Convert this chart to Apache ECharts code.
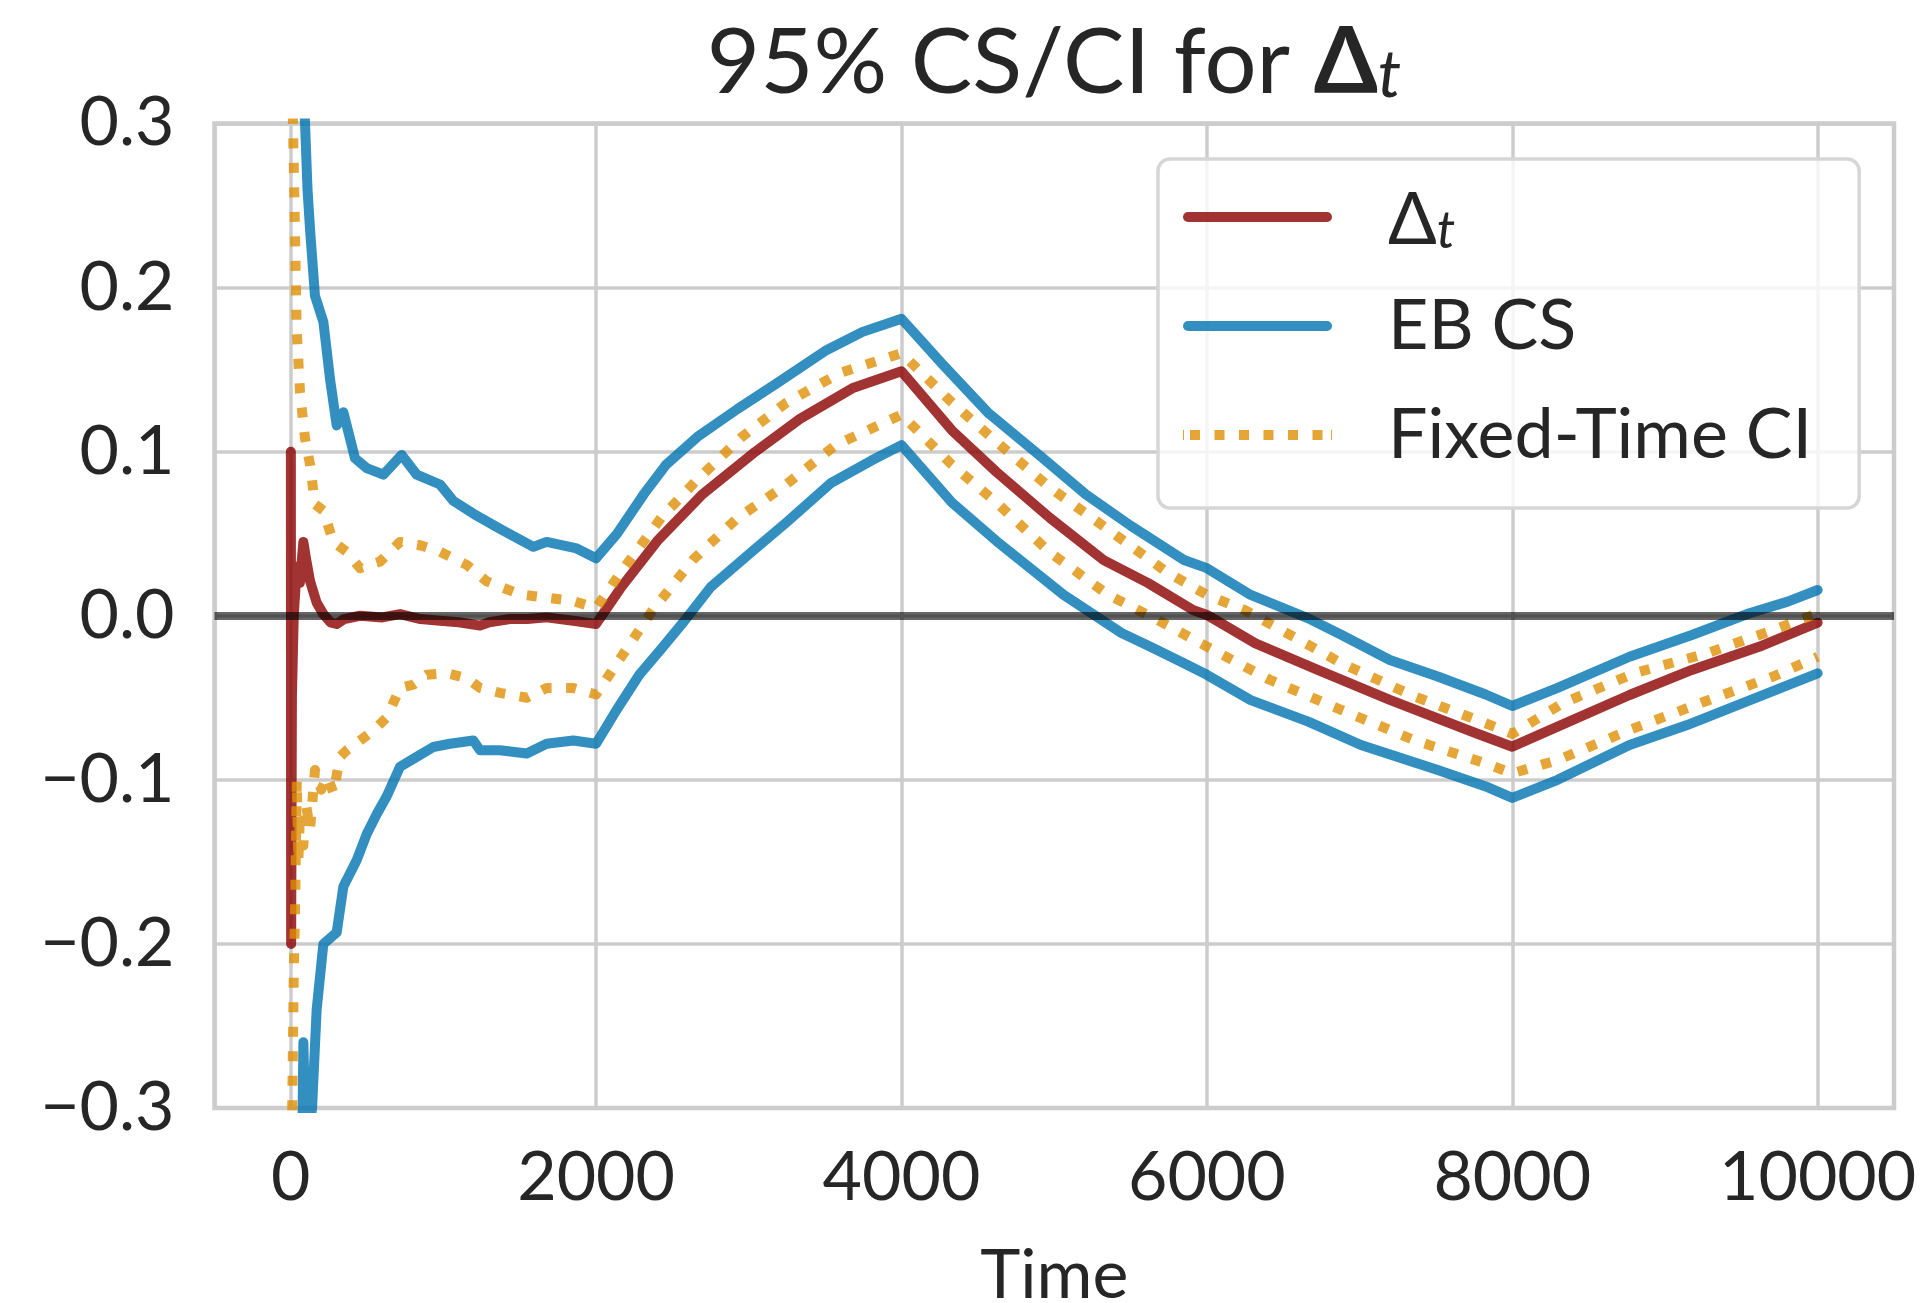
<!DOCTYPE html>
<html>
<head>
<meta charset="utf-8">
<script src="https://cdn.jsdelivr.net/npm/echarts@6/dist/echarts.min.js"></script>
<style>
  html, body { margin: 0; padding: 0; background: #fff; }
  #chart { width: 1921px; height: 1303px; }
</style>
</head>
<body>
<div id="chart"></div>
<script>
// values, [time, value]
var deltaPts = [
  [1, 0.1], [3, -0.2], [8, -0.05], [20, 0.0], [40, 0.03], [60, 0.02], [83, 0.045], [100, 0.035],
  [127, 0.021], [170, 0.008], [214, 0.001], [260, -0.004], [301, -0.005], [350, -0.002], [454, 0.0],
  [600, -0.001], [716, 0.001], [850, -0.002], [978, -0.003], [1100, -0.004], [1240, -0.006],
  [1300, -0.004], [1436, -0.002], [1550, -0.002], [1676, -0.001], [1850, -0.003], [2000, -0.005],
  [2166, 0.0175], [2400, 0.0455], [2692, 0.0736], [3043, 0.100], [3335, 0.120], [3686, 0.139],
  [4000, 0.149], [4330, 0.113], [4622, 0.0876], [4973, 0.0596], [5324, 0.0339], [5616, 0.0199],
  [5909, 0.0035], [6000, 0.0005], [6318, -0.0168], [6726, -0.033], [7198, -0.0513], [7763, -0.0716],
  [8000, -0.0798], [8297, -0.0676], [8768, -0.0483], [9176, -0.033], [9616, -0.0189], [10000, -0.0042]
];
var csUpper = [
  [1, 1.0], [50, 0.4], [94, 0.3], [110, 0.26], [127, 0.235], [159, 0.195], [214, 0.179], [258, 0.144],
  [301, 0.116], [345, 0.124], [421, 0.096], [498, 0.09], [607, 0.086], [727, 0.098], [825, 0.086],
  [978, 0.08], [1065, 0.07], [1218, 0.061], [1371, 0.053], [1589, 0.042], [1676, 0.045], [1873, 0.041],
  [2000, 0.035], [2137, 0.05], [2312, 0.074], [2458, 0.092], [2663, 0.109], [2926, 0.126], [3189, 0.142],
  [3511, 0.162], [3745, 0.173], [4000, 0.181], [4271, 0.153], [4564, 0.124], [4914, 0.097], [5207, 0.074],
  [5499, 0.055], [5850, 0.034], [6000, 0.029], [6287, 0.0127], [6664, -0.0016], [6883, -0.0117],
  [7198, -0.027], [7512, -0.037], [7826, -0.048], [8000, -0.055], [8297, -0.044], [8768, -0.025],
  [9176, -0.0117], [9553, 0.0015], [9804, 0.0086], [10000, 0.0157]
];
var csLower = [
  [1, -1.0], [60, -0.45], [83, -0.26], [100, -0.33], [140, -0.3], [170, -0.24], [214, -0.2], [301, -0.193],
  [345, -0.165], [432, -0.149], [498, -0.133], [563, -0.121], [629, -0.11], [716, -0.092], [825, -0.086],
  [934, -0.08], [1043, -0.078], [1196, -0.076], [1240, -0.082], [1371, -0.082], [1546, -0.084],
  [1676, -0.078], [1851, -0.076], [2000, -0.078], [2137, -0.057], [2283, -0.036], [2429, -0.02],
  [2575, -0.0035], [2751, 0.0175], [3014, 0.0385], [3248, 0.057], [3540, 0.081], [3803, 0.0946],
  [4000, 0.104], [4330, 0.069], [4622, 0.0455], [5061, 0.0128], [5441, -0.0105], [5627, -0.0188],
  [5850, -0.029], [6000, -0.036], [6287, -0.0514], [6664, -0.0645], [7009, -0.0788], [7512, -0.094],
  [7826, -0.104], [8000, -0.111], [8297, -0.1], [8768, -0.0788], [9145, -0.0666], [9616, -0.0493],
  [10000, -0.0351]
];
var ciUpper = [
  [1, 0.5], [5, 0.35], [15, 0.3], [28, 0.235], [39, 0.175], [61, 0.136], [94, 0.108], [127, 0.092],
  [159, 0.068], [214, 0.064], [279, 0.045], [367, 0.039], [454, 0.029], [585, 0.033], [716, 0.045],
  [847, 0.043], [978, 0.039], [1153, 0.031], [1284, 0.021], [1502, 0.013], [1676, 0.011], [1851, 0.009],
  [2000, 0.0047], [2166, 0.027], [2429, 0.06], [2663, 0.083], [2955, 0.109], [3248, 0.13], [3599, 0.148],
  [4000, 0.16], [4330, 0.13], [4622, 0.106], [4973, 0.078], [5353, 0.0526], [5733, 0.0269],
  [6000, 0.0127], [6259, 0.003], [6883, -0.029], [7355, -0.049], [7826, -0.0655], [8000, -0.072],
  [8328, -0.0534], [8800, -0.035], [9271, -0.023], [9710, -0.0087], [10000, 0.0015]
];
var ciLower = [
  [1, -0.6], [10, -0.3], [20, -0.22], [30, -0.17], [40, -0.1], [50, -0.15], [61, -0.12], [83, -0.14],
  [100, -0.115], [127, -0.13], [159, -0.094], [200, -0.106], [240, -0.098], [280, -0.108], [323, -0.086],
  [367, -0.082], [454, -0.076], [541, -0.07], [629, -0.062], [716, -0.044], [803, -0.042], [891, -0.036],
  [1022, -0.035], [1153, -0.038], [1240, -0.044], [1371, -0.047], [1546, -0.05], [1676, -0.044],
  [1851, -0.044], [2000, -0.048], [2137, -0.029], [2371, 0.0035], [2634, 0.034], [2926, 0.0596],
  [3218, 0.078], [3569, 0.104], [4000, 0.1226], [4330, 0.092], [4622, 0.069], [4973, 0.0385],
  [5353, 0.0128], [5658, -0.0016], [6000, -0.0188], [6412, -0.039], [6883, -0.0575], [7355, -0.0757],
  [7826, -0.09], [8000, -0.096], [8297, -0.088], [8768, -0.0696], [9239, -0.053], [9710, -0.037],
  [10000, -0.025]
];
var seriesNames = ['Δt', 'EB CS', 'Fixed-Time CI'];

var FONT = 'Lato, "Noto Sans", sans-serif';
var INK = '#262626';
var RED = '#8b0000', BLUE = '#0173b2', ORANGE = '#de8f05';
var LW = 10;

// legend keys: a rounded bar and a row of square dots
var barIcon = 'path://M5,0H144A5,5 0 0 1 144,10H5A5,5 0 0 1 5,0Z';
var dotIcon = 'path://M0,0h1v10h-1z M7,0h10v10h-10z M31.5,0h10v10h-10z M56,0h10v10h-10z M80.5,0h10v10h-10z M105,0h10v10h-10z M129.5,0h10v10h-10z M148,0h1v10h-1z';

function solid(name, data, color) {
  return {
    name: name, type: 'line', data: data, symbol: 'none', showSymbol: false,
    lineStyle: { color: color, width: LW, opacity: 0.8, cap: 'round', join: 'round' },
    itemStyle: { color: color, opacity: 0.8 },
    z: 2
  };
}
function dotted(name, data, color) {
  return {
    name: name, type: 'line', data: data, symbol: 'none', showSymbol: false,
    lineStyle: { color: color, width: LW, opacity: 0.8, type: [10, 14.5], cap: 'butt', join: 'round' },
    itemStyle: { color: color, opacity: 0.8 },
    z: 2
  };
}

var chart = echarts.init(document.getElementById('chart'), null, { renderer: 'canvas' });
chart.setOption({
  animation: false,
  backgroundColor: '#fff',
  title: {
    text: '{a|95% CS/CI for }{d|Δ}{t|t}',
    left: 1054, textAlign: 'center', top: 17, padding: 0,
    textStyle: {
      fontFamily: FONT, color: INK, fontWeight: 'normal', fontSize: 92,
      rich: {
        a: { fontFamily: FONT, color: INK, fontSize: 92, lineHeight: 92, verticalAlign: 'bottom' },
        d: { fontFamily: FONT, color: INK, fontSize: 92, lineHeight: 92, verticalAlign: 'bottom', fontWeight: 'bold' },
        t: { fontFamily: FONT, color: INK, fontSize: 66, lineHeight: 45, verticalAlign: 'bottom', fontStyle: 'italic' }
      }
    }
  },
  legend: {
    data: [
      { name: seriesNames[0], icon: barIcon },
      { name: seriesNames[1], icon: barIcon },
      { name: seriesNames[2], icon: dotIcon }
    ],
    orient: 'vertical',
    left: 1158, top: 159,
    padding: [18, 47, 33, 25],
    itemGap: 29, itemWidth: 149, itemHeight: 10,
    backgroundColor: 'rgba(255,255,255,0.8)',
    borderColor: '#d6d6d6', borderWidth: 3.5, borderRadius: 12,
    formatter: function (n) { return n === 'Δt' ? '{d|Δ}{t|t}' : n; },
    textStyle: {
      fontFamily: FONT, color: INK, fontSize: 70, lineHeight: 80, padding: [0, 0, 0, 51],
      rich: {
        d: { fontFamily: FONT, color: INK, fontSize: 72, lineHeight: 80, verticalAlign: 'bottom' },
        t: { fontFamily: FONT, color: INK, fontSize: 52, lineHeight: 44, verticalAlign: 'bottom', fontStyle: 'italic' }
      }
    }
  },
  grid: {
    left: 214.5, right: 27, top: 123.5, bottom: 195,
    outerBoundsMode: 'none', containLabel: false,
    show: true, borderColor: '#cccccc', borderWidth: 4.5, backgroundColor: 'transparent'
  },
  xAxis: {
    type: 'value', min: -499, max: 10500, minInterval: 2000, maxInterval: 2000,
    name: 'Time', nameLocation: 'middle', nameGap: 134,
    nameTextStyle: { fontFamily: FONT, color: INK, fontSize: 68 },
    axisLine: { show: false }, axisTick: { show: false },
    axisLabel: {
      fontFamily: FONT, color: INK, fontSize: 68, margin: 36, showMinLabel: false, showMaxLabel: false,
      formatter: function (v) { return String(Math.round(v)); }
    },
    splitLine: { show: true, lineStyle: { color: '#cccccc', width: 3.5 } }
  },
  yAxis: {
    type: 'value', min: -0.3, max: 0.3, interval: 0.1,
    axisLine: { show: false }, axisTick: { show: false },
    axisLabel: {
      fontFamily: FONT, color: INK, fontSize: 68, margin: 40,
      formatter: function (v) {
        var s = Math.abs(v).toFixed(1);
        return (v < -1e-9 ? '\u2212' : '') + s;
      }
    },
    splitLine: { show: true, lineStyle: { color: '#cccccc', width: 3.5 } }
  },
  series: [
    solid('Δt', deltaPts, RED),
    solid('EB CS', csUpper, BLUE),
    solid('EB CS', csLower, BLUE),
    dotted('Fixed-Time CI', ciUpper, ORANGE),
    dotted('Fixed-Time CI', ciLower, ORANGE),
    {
      name: 'zero', type: 'line', data: [], z: 3, silent: true,
      markLine: {
        silent: true, symbol: 'none', label: { show: false },
        lineStyle: { color: 'rgba(0,0,0,0.6)', width: 8, type: 'solid' },
        data: [{ yAxis: 0 }]
      }
    }
  ]
});
</script>
</body>
</html>
